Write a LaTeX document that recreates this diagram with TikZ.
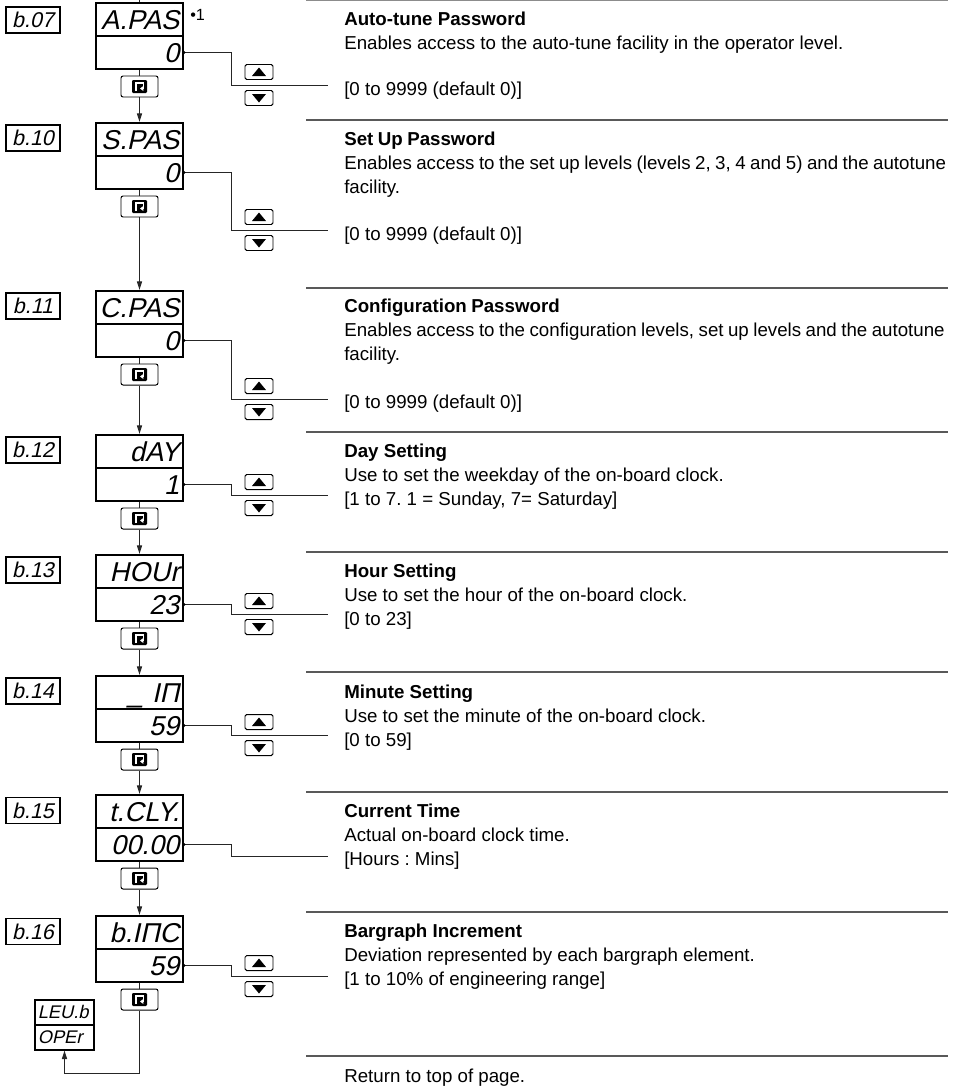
\documentclass[tikz,border=0pt]{standalone}
\usepackage{fontspec}
\setmainfont{Liberation Sans}
\newfontfamily\segfont[FakeSlant=0.22]{Liberation Sans}
\usetikzlibrary{arrows.meta,positioning}
\frenchspacing
% mezery mezi slovy jako v Arialu
\newcommand\wsp{\spaceskip=0.278em\xspaceskip=0.278em\relax}
\newcommand\tightwsp{\spaceskip=0.24em\xspaceskip=0.24em\relax}

\tikzset{
  sep/.style={line width=1pt, black!65},
  wire/.style={line width=0.7pt, black!85},
  flow/.style={wire, -{Triangle[length=6pt,width=3.6pt]}},
  tag/.style={draw, line width=0.8pt, minimum width=1.35cm, minimum height=0.65cm, inner sep=0pt,
    text height=0.375cm, text depth=0pt, font=\segfont\fontsize{15.2}{15.2}\selectfont},
  seg/.style={draw, line width=1.6pt, minimum height=0.825cm, inner xsep=0.09cm, inner ysep=0pt,
    text width=1.995cm, align=right, text height=0.48cm, text depth=0pt,
    font=\segfont\fontsize{19.4}{19.4}\selectfont},
  lev/.style={draw, line width=0.8pt, minimum height=0.625cm, inner xsep=0.07cm, inner ysep=0pt,
    text width=1.335cm, align=left, text height=0.32cm, text depth=0pt,
    font=\segfont\fontsize{13}{13}\selectfont},
  enterkey/.style={draw, line width=0.7pt, rounded corners=1.5pt, minimum width=0.925cm,
    minimum height=0.525cm, inner sep=0pt,
    path picture={
      \fill[rounded corners=0.8pt] ([shift={(-7.5,-6.5)}]path picture bounding box.center)
        rectangle ([shift={(7.5,6.5)}]path picture bounding box.center);
      \draw[white, line width=1.2pt, sharp corners, -{Triangle[length=2.4pt,width=3.4pt]}]
        ([shift={(-3.5,4.5)}]path picture bounding box.center) -- ++(0,-8) -- ++(7.5,0)
        -- ++(0,5.5) -- ++(-3.5,0);
    }},
  upkey/.style={draw, line width=0.7pt, rounded corners=1.2pt, minimum width=0.7cm,
    minimum height=0.375cm, inner sep=0pt,
    path picture={\fill[sharp corners] ([shift={(-7,4)}]path picture bounding box.center)
      -- ++(14,0) -- ++(-7,-8.5) -- cycle;}},
  downkey/.style={draw, line width=0.7pt, rounded corners=1.2pt, minimum width=0.7cm,
    minimum height=0.375cm, inner sep=0pt,
    path picture={\fill[sharp corners] ([shift={(-7,-4)}]path picture bounding box.center)
      -- ++(14,0) -- ++(-7,8.5) -- cycle;}},
  body/.style={anchor=base west, inner sep=0pt, text width=15.9cm, align=left,
    font=\fontsize{13.3}{17.1}\selectfont},
}

\begin{document}
\begin{tikzpicture}[x=0.025cm, y=-0.025cm]
  \useasboundingbox (0,0) rectangle (960,1086);
  % dělicí čáry
  \draw[sep, black!45] (306,0.5) -- (948,0.5);
  \draw[sep] (306,120) -- (948,120);
  \draw[sep] (306,288) -- (948,288);
  \draw[sep] (306,432) -- (948,432);
  \draw[sep] (306,552) -- (948,552);
  \draw[sep] (306,672) -- (948,672);
  \draw[sep] (306,792) -- (948,792);
  \draw[sep] (306,912) -- (948,912);
  \draw[sep] (306,1056) -- (948,1056);

  % b.07
  \node[tag] (l07) at (33,20) {b.07};
  \node[seg] (d07) at (139.5,19.5) {A.PAS};
  \node[seg] (v07) at (139.5,52.5) {0};
  \node[anchor=base west, inner sep=0pt, font=\fontsize{11.5}{11.5}\selectfont] (n07) at (190,20) {•1};
  \node[enterkey] (k07) at (139.5,86.5) {};
  \node[upkey] (u07) at (259,72) {};
  \node[downkey] (w07) at (259,98) {};
  \coordinate (top) at (139.5,0);
  \coordinate (e07) at (328,85);
  \draw[wire] (top) -- (d07.north);
  \draw[wire] (v07.east) -- ++(47,0) |- (e07);
  \fill (v07.east) circle (1.5);
  \node[body] (t07) at (344,25) {\wsp\textbf{Auto-tune Password}\\
    Enables access to the auto-tune facility in the operator level.};
  \node[body] (r07) at (344,95) {\wsp[0 to 9999 (default 0)]};

  % b.10
  \node[tag] (l10) at (33,138) {b.10};
  \node[seg] (d10) at (139.5,139.5) {S.PAS};
  \node[seg] (v10) at (139.5,172.5) {0};
  \node[enterkey] (k10) at (139.5,206.5) {};
  \node[upkey] (u10) at (259,217) {};
  \node[downkey] (w10) at (259,243) {};
  \coordinate (e10) at (328,230);
  \draw[wire] (v10.east) -- ++(47,0) |- (e10);
  \fill (v10.east) circle (1.5);
  \node[body] (t10) at (344,145) {\tightwsp\textbf{Set Up Password}\\
    Enables access to the set up levels (levels 2, 3, 4 and 5) and the autotune\\facility.};
  \node[body] (r10) at (344,240) {\wsp[0 to 9999 (default 0)]};

  % b.11
  \node[tag] (l11) at (33,306) {b.11};
  \node[seg] (d11) at (139.5,307.5) {C.PAS};
  \node[seg] (v11) at (139.5,340.5) {0};
  \node[enterkey] (k11) at (139.5,374.5) {};
  \node[upkey] (u11) at (259,386) {};
  \node[downkey] (w11) at (259,412) {};
  \coordinate (e11) at (328,399);
  \draw[wire] (v11.east) -- ++(47,0) |- (e11);
  \fill (v11.east) circle (1.5);
  \node[body] (t11) at (344,312) {\tightwsp\textbf{Configuration Password}\\
    Enables access to the configuration levels, set up levels and the autotune\\facility.};
  \node[body] (r11) at (344,408) {\wsp[0 to 9999 (default 0)]};

  % b.12
  \node[tag] (l12) at (33,450) {b.12};
  \node[seg] (d12) at (139.5,451.5) {dAY};
  \node[seg] (v12) at (139.5,484.5) {1};
  \node[enterkey] (k12) at (139.5,518.5) {};
  \node[upkey] (u12) at (259,482) {};
  \node[downkey] (w12) at (259,508) {};
  \coordinate (e12) at (328,495);
  \draw[wire] (v12.east) -- ++(47,0) |- (e12);
  \fill (v12.east) circle (1.5);
  \node[body] (t12) at (344,457) {\wsp\textbf{Day Setting}\\
    Use to set the weekday of the on-board clock.\\
    {[}1 to 7. 1 = Sunday, 7= Saturday]};

  % b.13
  \node[tag] (l13) at (33,570) {b.13};
  \node[seg] (d13) at (139.5,571.5) {HOUr};
  \node[seg] (v13) at (139.5,604.5) {23};
  \node[enterkey] (k13) at (139.5,638.5) {};
  \node[upkey] (u13) at (259,601) {};
  \node[downkey] (w13) at (259,627) {};
  \coordinate (e13) at (328,614);
  \draw[wire] (v13.east) -- ++(47,0) |- (e13);
  \fill (v13.east) circle (1.5);
  \node[body] (t13) at (344,577) {\wsp\textbf{Hour Setting}\\
    Use to set the hour of the on-board clock.\\
    {[}0 to 23]};

  % b.14
  \node[tag] (l14) at (33,691) {b.14};
  \node[seg] (d14) at (139.5,692.5) {\_ IΠ};
  \node[seg] (v14) at (139.5,725.5) {59};
  \node[enterkey] (k14) at (139.5,759.5) {};
  \node[upkey] (u14) at (259,722) {};
  \node[downkey] (w14) at (259,748) {};
  \coordinate (e14) at (328,735);
  \draw[wire] (v14.east) -- ++(47,0) |- (e14);
  \fill (v14.east) circle (1.5);
  \node[body] (t14) at (344,698) {\wsp\textbf{Minute Setting}\\
    Use to set the minute of the on-board clock.\\
    {[}0 to 59]};

  % b.15
  \node[tag] (l15) at (33,810.5) {b.15};
  \node[seg] (d15) at (139.5,811.5) {t.CLY.};
  \node[seg] (v15) at (139.5,844.5) {00.00};
  \node[enterkey] (k15) at (139.5,878.5) {};
  \coordinate (e15) at (328,856);
  \draw[wire] (v15.east) -- ++(47,0) |- (e15);
  \fill (v15.east) circle (1.5);
  \node[body] (t15) at (344,817) {\wsp\textbf{Current Time}\\
    Actual on-board clock time.\\
    {[}Hours : Mins]};

  % b.16
  \node[tag] (l16) at (33,931.5) {b.16};
  \node[seg] (d16) at (139.5,932.5) {b.IΠC};
  \node[seg] (v16) at (139.5,965.5) {59};
  \node[enterkey] (k16) at (139.5,999.5) {};
  \node[upkey] (u16) at (259,963) {};
  \node[downkey] (w16) at (259,989) {};
  \coordinate (e16) at (328,976);
  \draw[wire] (v16.east) -- ++(47,0) |- (e16);
  \fill (v16.east) circle (1.5);
  \node[body] (t16) at (344,937) {\wsp\textbf{Bargraph Increment}\\
    Deviation represented by each bargraph element.\\
    {[}1 to 10\% of engineering range]};

  % návrat na úroveň OPEr
  \node[lev] (lv1) at (64.5,1012.5) {LEU.b};
  \node[lev] (lv2) at (64.5,1037.5) {OPEr};
  \coordinate (turn) at (139.5,1073);
  \node[body] (t17) at (344,1082) {\wsp Return to top of page.};

  % šipky mezi displeji
  \draw[wire] (v07.south) -- (k07.north);
  \draw[flow] (k07.south) -- (d10.north);
  \draw[wire] (v10.south) -- (k10.north);
  \draw[flow] (k10.south) -- (d11.north);
  \draw[wire] (v11.south) -- (k11.north);
  \draw[flow] (k11.south) -- (d12.north);
  \draw[wire] (v12.south) -- (k12.north);
  \draw[flow] (k12.south) -- (d13.north);
  \draw[wire] (v13.south) -- (k13.north);
  \draw[flow] (k13.south) -- (d14.north);
  \draw[wire] (v14.south) -- (k14.north);
  \draw[flow] (k14.south) -- (d15.north);
  \draw[wire] (v15.south) -- (k15.north);
  \draw[flow] (k15.south) -- (d16.north);
  \draw[wire] (v16.south) -- (k16.north);
  \draw[flow] (k16.south) -- (turn) -| (lv2.south);
\end{tikzpicture}
\end{document}
